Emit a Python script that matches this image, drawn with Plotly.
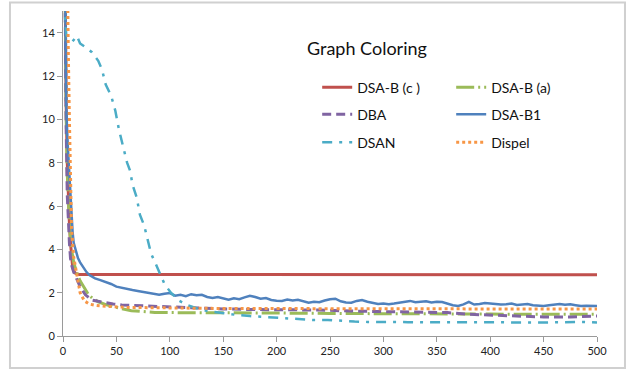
import plotly.graph_objects as go

# ---- series data (iteration -> value) ----
steps_c = [1, 2, 3, 4, 5, 6, 7, 8, 9, 10, 12, 15, 500]
dsa_b_c = [22, 14, 10.5, 8, 6.1, 5.2, 4.3, 3.6, 3.2, 3.0, 2.88, 2.84, 2.83]

steps_a = [1, 2, 3, 4, 5, 6, 7, 8, 10, 13, 16, 19, 24, 28, 33, 40, 46, 55, 64, 75, 86,
           98, 120, 150, 200, 250, 300, 350, 400, 450, 500]
dsa_b_a = [22, 14, 10, 7.5, 6.0, 5.2, 4.5, 4.0, 3.4, 2.9, 2.55, 2.28, 1.9, 1.72, 1.58,
           1.45, 1.36, 1.26, 1.17, 1.12, 1.09, 1.08, 1.08, 1.07, 1.06, 1.04, 1.02, 1.02,
           1.01, 1.0, 1.0]

steps_dba = [1, 2, 3, 4, 5, 6, 7, 8, 10, 12, 16, 21, 27, 33, 39, 47, 55, 65, 74, 85, 99,
             120, 150, 180, 210, 240, 270, 300, 330, 360, 380, 400, 425, 450, 475, 500]
dba = [22, 14, 9.5, 6.5, 5.05, 4.3, 3.6, 3.28, 2.95, 2.7, 2.28, 1.9, 1.66, 1.6, 1.54,
       1.48, 1.43, 1.41, 1.39, 1.37, 1.36, 1.3, 1.25, 1.22, 1.22, 1.2, 1.15, 1.13, 1.12,
       1.08, 1.0, 0.96, 0.9, 0.88, 0.88, 0.92]

steps_b1 = [1, 2, 3, 4, 5, 6, 7, 8, 9, 10, 12, 14, 16, 18, 20, 22,
            25, 30, 35, 40, 45, 50, 55, 60, 65, 70, 75, 80, 85, 90, 95, 100,
            105, 110, 115, 120, 125, 130, 135, 140, 145, 150, 155, 160, 165, 170,
            175, 180, 185, 190, 195, 200, 205, 210, 215, 220, 225, 230, 235, 240,
            245, 250, 255, 260, 265, 270, 275, 280, 285, 290, 295, 300, 305, 310,
            315, 320, 325, 330, 335, 340, 345, 350, 355, 360, 365, 370, 375, 380,
            385, 390, 395, 400, 405, 410, 415, 420, 425, 430, 435, 440, 445, 450,
            455, 460, 465, 470, 475, 480, 485, 490, 495, 500]
dsa_b1 = [22, 14, 10.8, 9.2, 8.3, 7.2, 6.2, 5.4, 4.8, 4.3, 3.9, 3.6, 3.4, 3.25, 3.1, 2.95,
          2.80, 2.66, 2.58, 2.50, 2.40, 2.28, 2.22, 2.15, 2.12, 2.08, 2.03, 2.00, 1.92,
          1.90, 1.95, 1.98, 1.86, 1.90, 1.84, 1.93, 1.88, 1.90, 1.80, 1.76, 1.80, 1.72,
          1.67, 1.74, 1.70, 1.78, 1.86, 1.80, 1.72, 1.75, 1.66, 1.63, 1.62, 1.68, 1.64,
          1.67, 1.60, 1.54, 1.58, 1.56, 1.64, 1.70, 1.72, 1.60, 1.55, 1.54, 1.62, 1.66,
          1.58, 1.52, 1.48, 1.50, 1.47, 1.50, 1.55, 1.58, 1.62, 1.56, 1.58, 1.60, 1.55,
          1.58, 1.57, 1.48, 1.42, 1.39, 1.46, 1.57, 1.45, 1.48, 1.52, 1.50, 1.48, 1.45,
          1.47, 1.50, 1.43, 1.45, 1.48, 1.42, 1.40, 1.39, 1.42, 1.46, 1.48, 1.44, 1.46,
          1.42, 1.38, 1.40, 1.41, 1.39]

steps_san = [1, 3, 6, 9, 13, 16, 22, 27, 33, 36.5, 40, 45, 49, 52.5, 56, 60, 63, 65, 69,
             72, 76, 79.5, 82.5, 88, 95, 101, 108, 116, 125, 135, 150, 163, 175, 187, 200,
             210, 222, 234, 248, 261, 273, 285, 298, 311, 323, 336, 348, 360, 373, 386,
             399, 412, 425, 437, 450, 462, 475, 487, 500]
dsan = [15.5, 13.9, 13.7, 13.6, 13.85, 13.5, 13.3, 13.1, 12.7, 12.3, 11.6, 11.1, 10.4,
        9.5, 8.8, 8.0, 7.6, 7.0, 6.4, 5.6, 5.1, 4.4, 3.8, 3.2, 2.4, 2.0, 1.65, 1.43, 1.28,
        1.15, 1.05, 0.97, 0.92, 0.88, 0.82, 0.79, 0.77, 0.74, 0.74, 0.69, 0.67, 0.65,
        0.66, 0.65, 0.64, 0.65, 0.63, 0.63, 0.64, 0.65, 0.63, 0.63, 0.62, 0.6, 0.62,
        0.63, 0.64, 0.65, 0.62]

steps_dispel = [1, 4, 5, 6, 7, 8, 10, 13, 16, 20, 25, 30, 40, 60, 80, 110, 150, 200, 250,
                300, 350, 400, 450, 500]
dispel = [30, 16, 13, 10, 6.8, 5.0, 3.65, 2.73, 2.0, 1.62, 1.47, 1.42, 1.37, 1.32, 1.3,
          1.29, 1.27, 1.26, 1.25, 1.25, 1.25, 1.25, 1.25, 1.25]

x_ticks = [0, 50, 100, 150, 200, 250, 300, 350, 400, 450, 500]
y_ticks = [0, 2, 4, 6, 8, 10, 12, 14]

FONT = "Lato"

series = [
    ("DSA-B (c )", steps_c, dsa_b_c, "#C0504D", "solid", 3, "legend"),
    ("DSA-B (a)", steps_a, dsa_b_a, "#9BBB59", "18px,4px,2px,4px", 3, "legend"),
    ("DBA", steps_dba, dba, "#8064A2", "9px,5px", 3, "legend2"),
    ("DSA-B1", steps_b1, dsa_b1, "#4F81BD", "solid", 2.5, "legend2"),
    ("DSAN", steps_san, dsan, "#4BACC6", "10px,7px,3px,7px", 2.5, "legend3"),
    ("Dispel", steps_dispel, dispel, "#F79646", "3px,3px", 3, "legend3"),
]

fig = go.Figure()
for name, xs, ys, color, dash, width, leg in series:
    fig.add_trace(go.Scatter(
        x=xs, y=ys, name=name, mode="lines",
        line=dict(color=color, dash=dash, width=width),
        legend=leg,
    ))

legend_style = dict(
    orientation="h", x=0.476, xanchor="left", yanchor="middle",
    entrywidth=89, entrywidthmode="pixels",
    bgcolor="rgba(0,0,0,0)", font=dict(family=FONT, size=14, color="#111"),
    itemclick=False, itemdoubleclick=False,
)

axis_common = dict(
    showgrid=False, zeroline=False, showline=True, linecolor="#9A9A9A", linewidth=1,
    ticks="outside", ticklen=5, tickcolor="#9A9A9A", tickwidth=1,
    tickfont=dict(family=FONT, size=11, color="#222"),
)

fig.update_layout(
    width=636, height=371,
    margin=dict(l=63, r=39, t=11, b=35),
    paper_bgcolor="white", plot_bgcolor="white",
    showlegend=True,
    xaxis=dict(range=[0, 500], tickvals=x_ticks, **axis_common),
    yaxis=dict(range=[0, 15], tickvals=y_ticks, **axis_common),
    legend=dict(y=0.764, **legend_style),
    legend2=dict(y=0.681, **legend_style),
    legend3=dict(y=0.595, **legend_style),
    annotations=[dict(
        text="Graph Coloring", xref="paper", yref="paper", x=0.569, y=0.885,
        xanchor="center", yanchor="middle", showarrow=False,
        font=dict(family=FONT, size=18, color="#111"),
    )],
    shapes=[dict(
        type="rect", xref="paper", yref="paper",
        x0=-0.0993, x1=1.0524, y0=-0.0986, y1=1.026,
        line=dict(color="#D0D0D0", width=2), layer="below",
    )],
)

fig.write_html("out.html")
